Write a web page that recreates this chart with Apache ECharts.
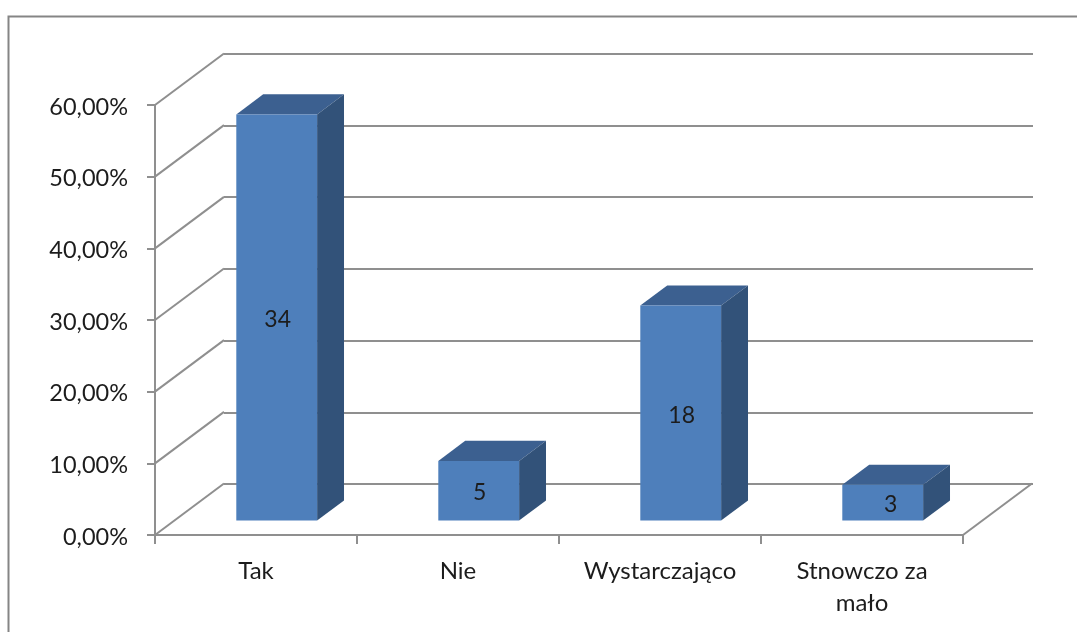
<!DOCTYPE html>
<html>
<head>
<meta charset="utf-8">
<style>
  html, body { margin: 0; padding: 0; background: #fff; }
  #chart { width: 1077px; height: 632px; }
</style>
<script src="https://cdn.jsdelivr.net/npm/echarts@6/dist/echarts.min.js"></script>
</head>
<body>
<div id="chart"></div>
<script>
const categories = ['Tak', 'Nie', 'Wystarczająco', 'Stnowczo za\nmało']
const percentValues = [56.67, 8.33, 30, 5]
const countLabels = [34, 5, 18, 3]
const percentTicks = [0, 10, 20, 30, 40, 50, 60]

// fake 3D: how far the back wall sits from the front plane
const DEPTH_X = 69
const DEPTH_Y = 51.5
const GRID_COLOR = '#8f8f8f'
const TEXT_COLOR = '#1c1c1c'
const FONT = 'Lato, "Noto Sans", sans-serif'

const renderBar = (params, api) => {
  const i = api.value(0)
  const foot = api.coord([i, 0])
  const bandW = api.size([1, 0])[0]
  const h = api.size([0, api.value(1)])[1]
  const w = bandW * 0.4
  // bars stand about 30% into the floor and are 39% of it deep
  const x0 = foot[0] - w / 2 + DEPTH_X * 0.3
  const x1 = x0 + w
  const yB = foot[1] - DEPTH_Y * 0.28
  const yT = yB - h
  const dx = DEPTH_X * 0.39
  const dy = DEPTH_Y * 0.39
  return {
    type: 'group',
    children: [
      { type: 'polygon', shape: { points: [[x0, yT], [x0 + dx, yT - dy], [x1 + dx, yT - dy], [x1, yT]] }, style: { fill: '#3c6090' } },
      { type: 'polygon', shape: { points: [[x1, yT], [x1 + dx, yT - dy], [x1 + dx, yB - dy], [x1, yB]] }, style: { fill: '#325279' } },
      { type: 'rect', shape: { x: x0, y: yT, width: w, height: h }, style: { fill: '#4e7fbb' } },
      {
        type: 'text',
        x: (x0 + x1) / 2 + (i === 3 ? 8 : 1),
        y: (yT + yB) / 2 + 2,
        style: { text: String(countLabels[i]), fill: TEXT_COLOR, font: '23px ' + FONT, align: 'center', verticalAlign: 'middle' }
      }
    ]
  }
}

const renderWall = (params, api) => {
  const box = params.coordSys
  const y = api.coord([0, api.value(1)])[1]
  const lineStyle = { stroke: GRID_COLOR, lineWidth: 2 }
  const children = [
    { type: 'line', shape: { x1: box.x, y1: y, x2: box.x + DEPTH_X, y2: y - DEPTH_Y }, style: lineStyle }
  ]
  if (api.value(1) === 0) {
    const right = box.x + box.width
    children.push({ type: 'line', shape: { x1: right, y1: y, x2: right + DEPTH_X, y2: y - DEPTH_Y }, style: lineStyle })
  }
  return { type: 'group', children }
}

const chart = echarts.init(document.getElementById('chart'), null, { renderer: 'canvas' })
chart.setOption({
  animation: false,
  backgroundColor: '#fff',
  graphic: [
    {
      type: 'polyline',
      shape: { points: [[8.5, 632], [8.5, 16.5], [1077, 16.5]] },
      style: { stroke: '#858585', lineWidth: 2, fill: 'none' }
    }
  ],
  grid: [
    { left: 155, right: 114, top: 105, bottom: 97 },
    { left: 224, right: 44, top: 53.5, bottom: 148 }
  ],
  xAxis: [
    {
      type: 'category',
      gridIndex: 0,
      data: categories,
      axisLine: { show: true, lineStyle: { color: GRID_COLOR, width: 2 } },
      axisTick: { show: true, length: 9, lineStyle: { color: GRID_COLOR, width: 2 } },
      axisLabel: { color: TEXT_COLOR, fontFamily: FONT, fontSize: 24, lineHeight: 32, margin: 20, interval: 0 }
    },
    { type: 'category', gridIndex: 1, data: categories, show: false }
  ],
  yAxis: [
    {
      type: 'value',
      gridIndex: 0,
      min: 0,
      max: 60,
      interval: 10,
      axisLine: { show: true, lineStyle: { color: GRID_COLOR, width: 2 } },
      axisTick: { show: true, length: 8, lineStyle: { color: GRID_COLOR, width: 2 } },
      axisLabel: {
        color: TEXT_COLOR, fontFamily: FONT, fontSize: 23.5, margin: 27,
        verticalAlign: 'top', lineHeight: 4,
        formatter: v => v.toFixed(2).replace('.', ',') + '%'
      },
      splitLine: { show: false }
    },
    {
      type: 'value',
      gridIndex: 1,
      min: 0,
      max: 60,
      interval: 10,
      axisLine: { show: false },
      axisTick: { show: false },
      axisLabel: { show: false },
      splitLine: { show: true, lineStyle: { color: GRID_COLOR, width: 2 } }
    }
  ],
  series: [
    {
      type: 'custom',
      xAxisIndex: 0,
      yAxisIndex: 0,
      z: 2,
      silent: true,
      clip: false,
      renderItem: renderWall,
      encode: { x: 0, y: 1 },
      data: percentTicks.map(v => [0, v])
    },
    {
      type: 'custom',
      xAxisIndex: 0,
      yAxisIndex: 0,
      z: 3,
      clip: false,
      renderItem: renderBar,
      encode: { x: 0, y: 1 },
      data: percentValues.map((v, i) => [i, v])
    }
  ]
})
</script>
</body>
</html>
